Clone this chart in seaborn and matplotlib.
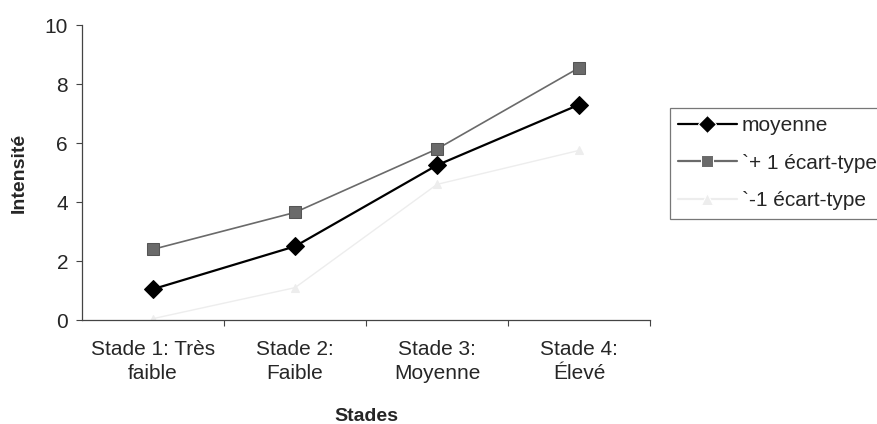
import pandas as pd
import numpy as np
import seaborn as sns
import matplotlib.pyplot as plt

# Données
stades = ['Stade 1: Très\nfaible', 'Stade 2:\nFaible', 'Stade 3:\nMoyenne', 'Stade 4:\nÉlevé']
moyenne = [1.05, 2.5, 5.25, 7.3]
plus_ecart = [2.4, 3.65, 5.8, 8.55]
moins_ecart = [0.05, 1.1, 4.6, 5.75]
series = ['moyenne', '`+ 1 écart-type', '`-1 écart-type']

df = pd.DataFrame({
    'pos': list(range(4)) * 3,
    'valeur': moyenne + plus_ecart + moins_ecart,
    'serie': np.repeat(series, 4),
})

sns.set_style('ticks')
plt.rcParams['font.family'] = ['Liberation Sans', 'DejaVu Sans']

fig = plt.figure(figsize=(8.78, 4.24), dpi=100)
ax = fig.add_axes([0.0934, 0.245, 0.647, 0.696])

sns.lineplot(data=df, x='pos', y='valeur', hue='serie', style='serie',
             palette={series[0]: 'black', series[1]: '#6a6a6a', series[2]: '#ededed'},
             markers={series[0]: 'D', series[1]: 's', series[2]: '^'},
             dashes=False, markersize=9, linewidth=1.6, ax=ax)
for ln, mec in zip(ax.lines[:3], ['black', '#555555', '#ededed']):
    ln.set_markeredgecolor(mec)
ax.lines[1].set_linewidth(1.2)
ax.lines[2].set_linewidth(1.0)
ax.lines[2].set_markersize(6)

ax.set_xlim(-0.5, 3.5)
ax.set_ylim(0, 10)
ax.set_yticks([0, 2, 4, 6, 8, 10])
ax.set_xticks(range(4))
ax.set_xticklabels(stades, linespacing=1.35)
ax.set_xticks([0.5, 1.5, 2.5, 3.5], minor=True)
ax.tick_params(axis='x', which='major', length=0, pad=14, labelsize=15)
ax.tick_params(axis='x', which='minor', length=4, width=0.8, color='#444444')
ax.tick_params(axis='y', length=4, width=0.8, color='#444444', labelsize=15, pad=6)
sns.despine(ax=ax)
for s in ['left', 'bottom']:
    ax.spines[s].set_color('#444444')
    ax.spines[s].set_linewidth(0.9)

ax.set_xlabel('Stades', fontweight='bold', fontsize=14, labelpad=18)
ax.set_ylabel('Intensité', fontweight='bold', fontsize=14, labelpad=12)

leg = ax.legend(loc='upper left', bbox_to_anchor=(1.035, 0.72), fontsize=15,
                frameon=True, fancybox=False, edgecolor='#555555',
                borderpad=0.4, labelspacing=0.9, handlelength=2.8,
                handletextpad=0.25, borderaxespad=0)
leg.get_frame().set_linewidth(0.9)

plt.savefig('out.png', dpi=100)
